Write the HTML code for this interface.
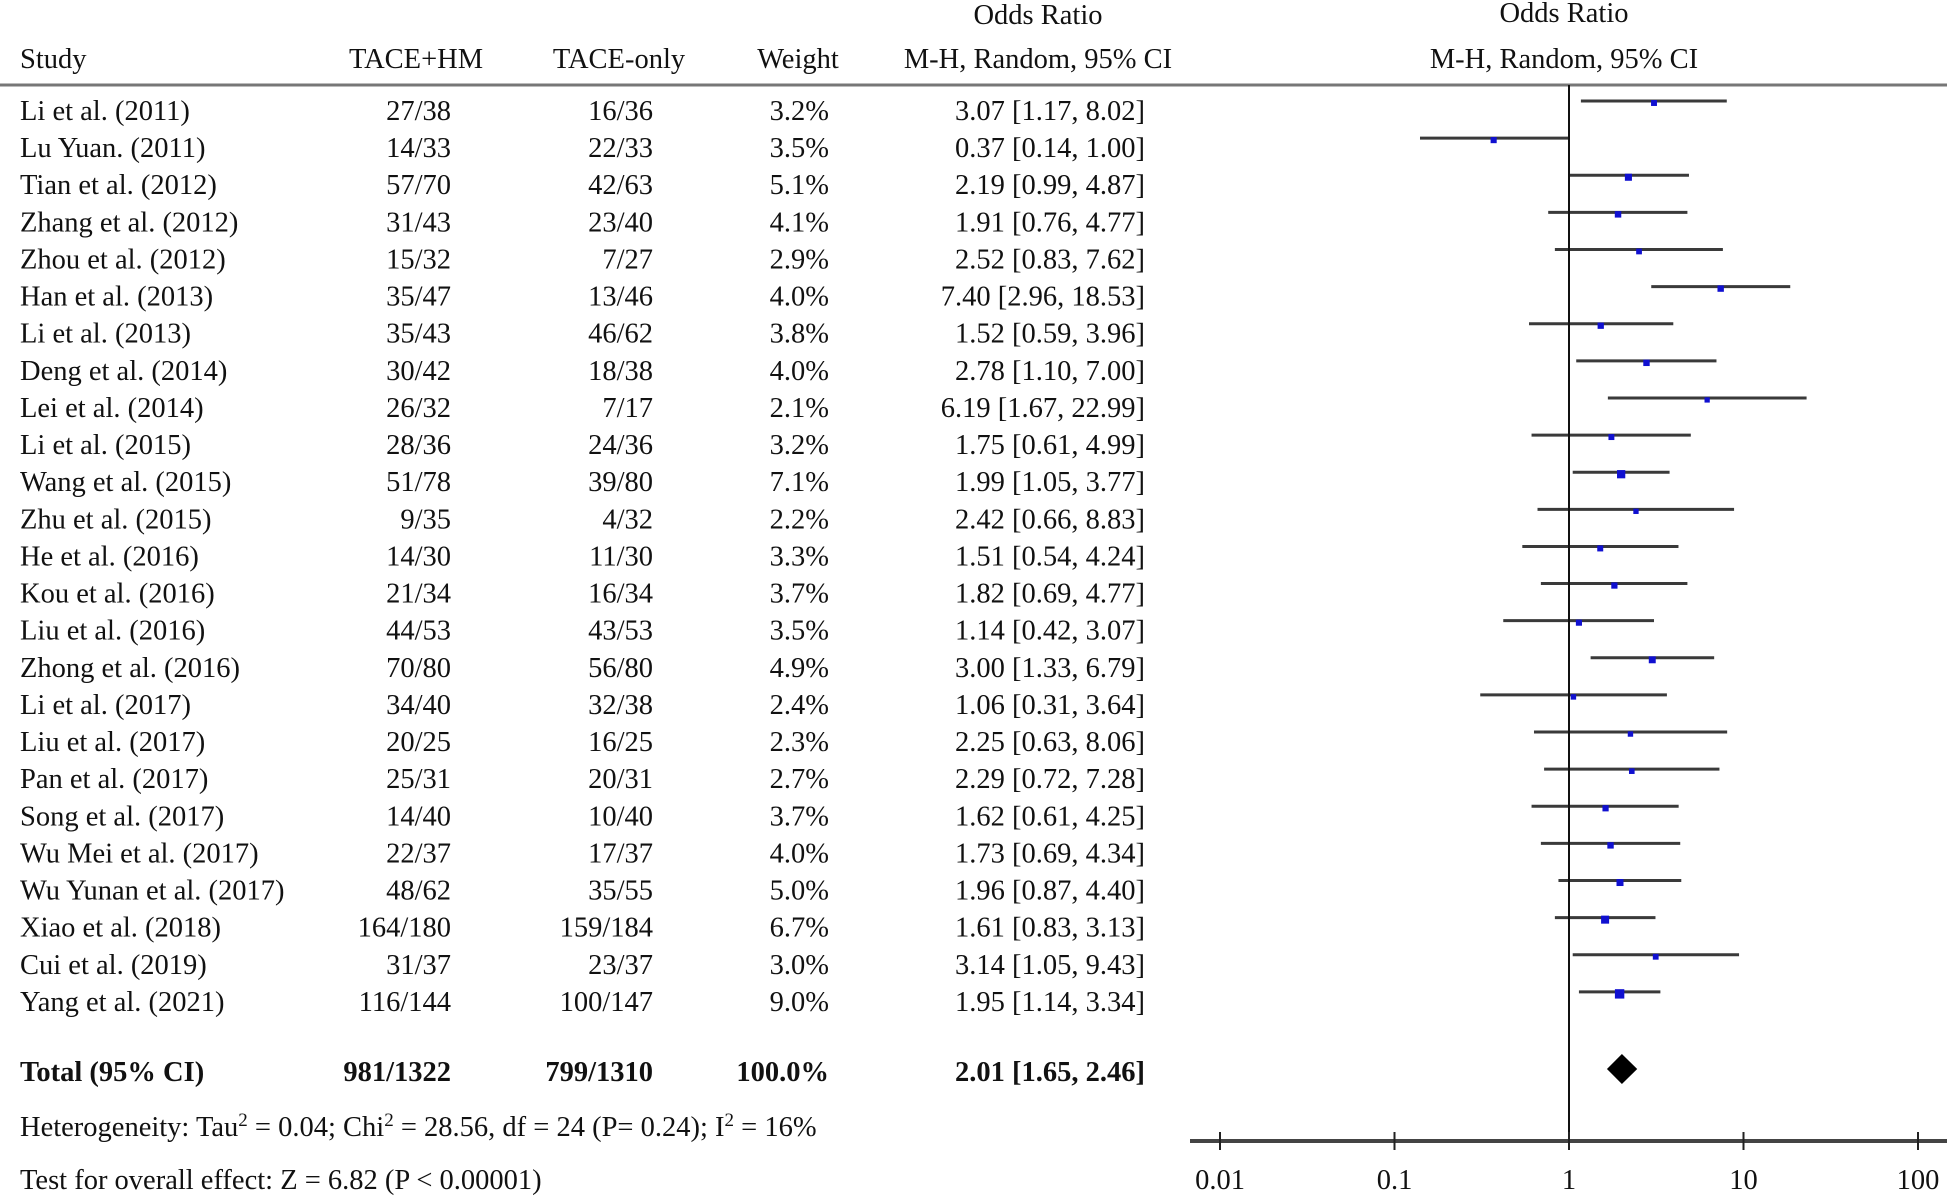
<!DOCTYPE html>
<html><head><meta charset="utf-8"><style>
html,body{margin:0;padding:0;background:#fff;}
svg text{font-family:"Liberation Serif",serif;font-size:28.5px;fill:#111;}
</style></head><body>
<svg id="plot" width="1949" height="1198" viewBox="0 0 1949 1198" xmlns="http://www.w3.org/2000/svg">
<g>
<text x="1038" y="24" text-anchor="middle">Odds Ratio</text>
<text x="1564" y="22" text-anchor="middle">Odds Ratio</text>
<text x="20" y="68">Study</text>
<text x="416" y="68" text-anchor="middle">TACE+HM</text>
<text x="619" y="68" text-anchor="middle">TACE-only</text>
<text x="798" y="68" text-anchor="middle">Weight</text>
<text x="1038" y="68" text-anchor="middle">M-H, Random, 95% CI</text>
<text x="1564" y="68" text-anchor="middle">M-H, Random, 95% CI</text>
<line x1="0" y1="85" x2="1947" y2="85" stroke="#777" stroke-width="3"/>
</g>
<g id="rows"></g>
<g id="marks"></g>
<g>
<text x="20" y="1081" font-weight="bold">Total (95% CI)</text>
<text x="451" y="1081" text-anchor="end" font-weight="bold">981/1322</text>
<text x="653" y="1081" text-anchor="end" font-weight="bold">799/1310</text>
<text x="829" y="1081" text-anchor="end" font-weight="bold">100.0%</text>
<text x="1145" y="1081" text-anchor="end" font-weight="bold">2.01 [1.65, 2.46]</text>
<text x="20" y="1136">Heterogeneity: Tau<tspan dy="-10" font-size="19">2</tspan><tspan dy="10"> = 0.04; Chi</tspan><tspan dy="-10" font-size="19">2</tspan><tspan dy="10"> = 28.56, df = 24 (P= 0.24); I</tspan><tspan dy="-10" font-size="19">2</tspan><tspan dy="10"> = 16%</tspan></text>
<text x="20" y="1189">Test for overall effect: Z = 6.82 (P &lt; 0.00001)</text>
</g>
<g id="axis"></g>
</svg>
<script>
const studies=["Li et al. (2011)","Lu Yuan. (2011)","Tian et al. (2012)","Zhang et al. (2012)","Zhou et al. (2012)","Han et al. (2013)","Li et al. (2013)","Deng et al. (2014)","Lei et al. (2014)","Li et al. (2015)","Wang et al. (2015)","Zhu et al. (2015)","He et al. (2016)","Kou et al. (2016)","Liu et al. (2016)","Zhong et al. (2016)","Li et al. (2017)","Liu et al. (2017)","Pan et al. (2017)","Song et al. (2017)","Wu Mei et al. (2017)","Wu Yunan et al. (2017)","Xiao et al. (2018)","Cui et al. (2019)","Yang et al. (2021)"];
const hmCounts=["27/38","14/33","57/70","31/43","15/32","35/47","35/43","30/42","26/32","28/36","51/78","9/35","14/30","21/34","44/53","70/80","34/40","20/25","25/31","14/40","22/37","48/62","164/180","31/37","116/144"];
const onlyCounts=["16/36","22/33","42/63","23/40","7/27","13/46","46/62","18/38","7/17","24/36","39/80","4/32","11/30","16/34","43/53","56/80","32/38","16/25","20/31","10/40","17/37","35/55","159/184","23/37","100/147"];
const weights=[3.2,3.5,5.1,4.1,2.9,4.0,3.8,4.0,2.1,3.2,7.1,2.2,3.3,3.7,3.5,4.9,2.4,2.3,2.7,3.7,4.0,5.0,6.7,3.0,9.0];
const orValues=[3.07,0.37,2.19,1.91,2.52,7.40,1.52,2.78,6.19,1.75,1.99,2.42,1.51,1.82,1.14,3.00,1.06,2.25,2.29,1.62,1.73,1.96,1.61,3.14,1.95];
const ciLow=[1.17,0.14,0.99,0.76,0.83,2.96,0.59,1.10,1.67,0.61,1.05,0.66,0.54,0.69,0.42,1.33,0.31,0.63,0.72,0.61,0.69,0.87,0.83,1.05,1.14];
const ciHigh=[8.02,1.00,4.87,4.77,7.62,18.53,3.96,7.00,22.99,4.99,3.77,8.83,4.24,4.77,3.07,6.79,3.64,8.06,7.28,4.25,4.34,4.40,3.13,9.43,3.34];
const totalOR=[2.01,1.65,2.46];
const tickValues=[0.01,0.1,1,10,100];
const tickLabels=["0.01","0.1","1","10","100"];

const NS="http://www.w3.org/2000/svg";
const xScale=v=>1569+174.5*Math.log10(v);
const rowY=i=>109+i*37.12;
function mk(tag,attrs,parent){const e=document.createElementNS(NS,tag);for(const k in attrs)e.setAttribute(k,attrs[k]);parent.appendChild(e);return e;}
const rows=document.getElementById('rows'),marks=document.getElementById('marks'),axis=document.getElementById('axis');
const fmt=v=>v.toFixed(2);
studies.forEach((s,i)=>{
  const y=rowY(i)+11;
  const cols=[[20,'start',s,'study-name'],[451,'end',hmCounts[i],'tace-hm-count'],[653,'end',onlyCounts[i],'tace-only-count'],[829,'end',weights[i].toFixed(1)+'%','weight-value'],[1145,'end',fmt(orValues[i])+' ['+fmt(ciLow[i])+', '+fmt(ciHigh[i])+']','or-value']];
  cols.forEach(c=>{const t=mk('text',{x:c[0],y:y,'text-anchor':c[1]},rows);t.textContent=c[2];
    
    });
  const ly=rowY(i)-8;
  const l=mk('line',{x1:xScale(ciLow[i]),x2:xScale(ciHigh[i]),y1:ly,y2:ly,stroke:'#3a3a3a','stroke-width':3},marks);
  
  
  const sz=4+weights[i]*0.6;
  const r=mk('rect',{x:xScale(orValues[i])-sz/2,y:ly+2-sz/2,width:sz,height:sz,fill:'#1010d0'},marks);
  
  
});
const ref=mk('line',{x1:1569,x2:1569,y1:85,y2:1141,stroke:'#111','stroke-width':2},marks);


const dy=1069,xl=xScale(totalOR[1]),xr=xScale(totalOR[2]),xc=xScale(totalOR[0]);
const d=mk('polygon',{points:`${xl},${dy} ${xc},${dy-15} ${xr},${dy} ${xc},${dy+15}`,fill:'#000'},marks);


const al=mk('line',{x1:1190,x2:1947,y1:1141,y2:1141,stroke:'#444','stroke-width':4},axis);


tickValues.forEach((v,i)=>{
  const x=xScale(v);
  const tk=mk('line',{x1:x,x2:x,y1:1132,y2:1150,stroke:'#222','stroke-width':2},axis);
  
  
  const t=mk('text',{x:x,y:1189,'text-anchor':'middle'},axis);t.textContent=tickLabels[i];
  
  
});
</script>
</body></html>
